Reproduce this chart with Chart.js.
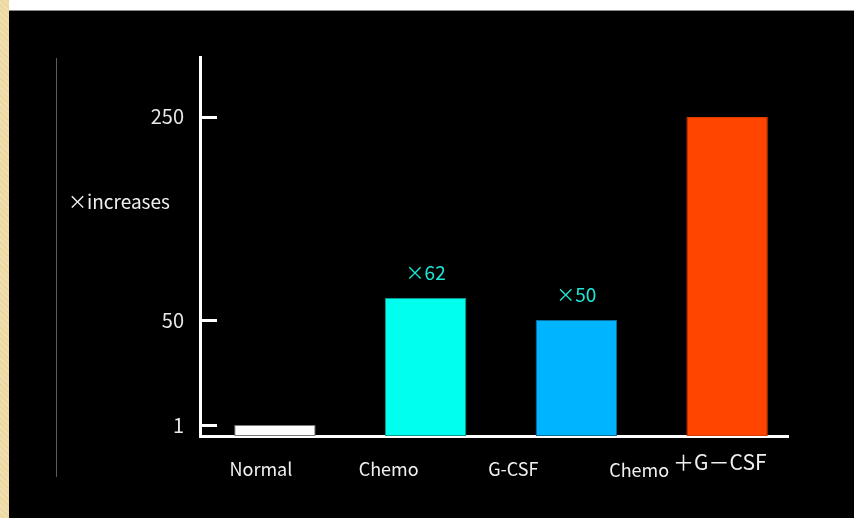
<!DOCTYPE html>
<html>
<head>
<meta charset="utf-8">
<script src="https://cdn.jsdelivr.net/npm/chart.js@4/dist/chart.umd.min.js"></script>
<style>
  html, body { margin: 0; padding: 0; width: 854px; height: 518px; overflow: hidden; background: #ffffff; }
  #strip { position: absolute; left: 0; top: 0; width: 9px; height: 518px;
           background: repeating-linear-gradient(45deg, #f1dfae 0 2px, #ebd7a2 2px 4px); }
  #panel { position: absolute; left: 9px; top: 10px; right: 0; bottom: 0; background: #000; border-top: 1px solid #8a8a8a; }
  #rule { position: absolute; left: 56px; top: 58px; width: 1px; height: 419px; background: #5a5a5a; }
  #wrap { position: absolute; left: 0; top: 0; width: 854px; height: 518px; }
</style>
</head>
<body>
<div id="strip"></div>
<div id="panel"></div>
<div id="rule"></div>
<div id="wrap"><canvas id="c" width="854" height="518"></canvas></div>
<script>
// Fold increase of circulating progenitor cells per condition
const categories = ['Normal', 'Chemo', 'G-CSF', 'Chemo+G-CSF'];
const foldValues = [1, 62, 50, 250];
const showValue = [false, true, true, false];
const tickValues = [1, 50, 250];
const yTitle = '×increases';
const lastLabelParts = ['Chemo', '＋G－CSF'];

const FONT = '"Noto Sans CJK JP", "Noto Sans", sans-serif';

// Linear scale made of several linear segments (a broken / compressed axis)
class SegmentedScale extends Chart.LinearScale {
  static id = 'segmented';
  static defaults = Chart.LinearScale.defaults;
  valueToFraction(v) {
    const seg = this.options.segments;
    const vals = seg.values, fr = seg.fractions;
    if (v <= vals[0]) return fr[0];
    for (let i = 1; i < vals.length; i++) {
      if (v <= vals[i]) {
        const t = (v - vals[i - 1]) / (vals[i] - vals[i - 1]);
        return fr[i - 1] + t * (fr[i] - fr[i - 1]);
      }
    }
    return fr[fr.length - 1];
  }
  getPixelForValue(v) {
    if (v === null || v === undefined || isNaN(v)) return NaN;
    return this.getPixelForDecimal(this.valueToFraction(v));
  }
  getValueForPixel(p) {
    const d = this.getDecimalForPixel(p);
    const seg = this.options.segments;
    const vals = seg.values, fr = seg.fractions;
    for (let i = 1; i < fr.length; i++) {
      if (d <= fr[i]) {
        const t = (d - fr[i - 1]) / (fr[i] - fr[i - 1]);
        return vals[i - 1] + t * (vals[i] - vals[i - 1]);
      }
    }
    return vals[vals.length - 1];
  }
}
Chart.register(SegmentedScale);

// Inward tick marks on the value axis
const innerTicks = {
  id: 'innerTicks',
  afterDraw(chart) {
    const { ctx, chartArea } = chart;
    const y = chart.scales.y;
    ctx.save();
    ctx.strokeStyle = '#ffffff';
    ctx.lineWidth = 3;
    y.ticks.forEach(t => {
      const py = Math.round(y.getPixelForValue(t.value)) + 0.5;
      ctx.beginPath();
      ctx.moveTo(chartArea.left, py);
      ctx.lineTo(chartArea.left + 17, py);
      ctx.stroke();
    });
    ctx.restore();
  }
};

// Axis title, value labels above bars and category names under the axis
const annotations = {
  id: 'annotations',
  afterDraw(chart, args, opts) {
    const { ctx, chartArea } = chart;
    const meta = chart.getDatasetMeta(0);
    ctx.save();
    ctx.textBaseline = 'middle';

    ctx.fillStyle = '#f0f0f0';
    ctx.font = '19px ' + FONT;
    ctx.textAlign = 'left';
    ctx.fillText(yTitle, chartArea.left - 132, 202);

    ctx.fillStyle = '#1ee6d6';
    ctx.textAlign = 'center';
    ctx.font = '19px ' + FONT;
    meta.data.forEach((bar, i) => {
      if (!showValue[i]) return;
      ctx.fillText('×' + foldValues[i], bar.x, bar.y - 25);
    });

    ctx.fillStyle = '#f0f0f0';
    const shifts = opts.shifts;
    const ly = chartArea.bottom + 33;
    meta.data.forEach((bar, i) => {
      const cx = bar.x + shifts[i];
      if (i === categories.length - 1) {
        ctx.font = '18px ' + FONT;
        ctx.textAlign = 'right';
        ctx.fillText(lastLabelParts[0], cx - 23, ly + 1);
        ctx.font = '21px ' + FONT;
        ctx.textAlign = 'left';
        ctx.fillText(lastLabelParts[1], cx - 19, ly - 7);
      } else {
        ctx.font = '18px ' + FONT;
        ctx.textAlign = 'center';
        ctx.fillText(categories[i], cx, ly);
      }
    });
    ctx.restore();
  }
};

new Chart(document.getElementById('c'), {
  type: 'bar',
  data: {
    datasets: [{
      data: categories.map((c, i) => ({ x: i, y: foldValues[i] })),
      backgroundColor: ['#ffffff', '#00ffee', '#00b4ff', '#ff4500'],
      borderColor: ['#7a7a7a', '#0a9a8e', '#0b6c9c', '#d63a00'],
      borderWidth: 1,
      borderSkipped: false,
      categoryPercentage: 1,
      barPercentage: 0.54
    }]
  },
  options: {
    responsive: false,
    animation: false,
    events: [],
    layout: { padding: { left: 0, top: 57, right: 66, bottom: 0 } },
    plugins: {
      legend: { display: false },
      tooltip: { enabled: false },
      annotations: { shifts: [-14, -37, -63, -35] }
    },
    scales: {
      x: {
        type: 'linear',
        min: -0.497,
        max: 3.404,
        offset: false,
        afterBuildTicks(s) { s.ticks = categories.map((c, i) => ({ value: i })); },
        grid: { display: false },
        ticks: { display: false },
        border: { display: true, color: '#ffffff', width: 3 },
        afterFit(s) { s.height = 82; }
      },
      y: {
        type: 'segmented',
        min: 0,
        max: 310,
        segments: {
          values: [0, 1, 50, 100, 250, 310],
          fractions: [0, 0.029, 0.306, 0.549, 0.842, 1]
        },
        afterBuildTicks(s) { s.ticks = tickValues.map(v => ({ value: v })); },
        grid: { display: false },
        border: { display: true, color: '#ffffff', width: 3 },
        ticks: {
          padding: 8,
          color: '#e8e8e8',
          font: { family: FONT, size: 20 },
          callback: v => String(v)
        },
        afterFit(s) { s.width = 200; }
      }
    }
  },
  plugins: [innerTicks, annotations]
});
</script>
</body>
</html>
